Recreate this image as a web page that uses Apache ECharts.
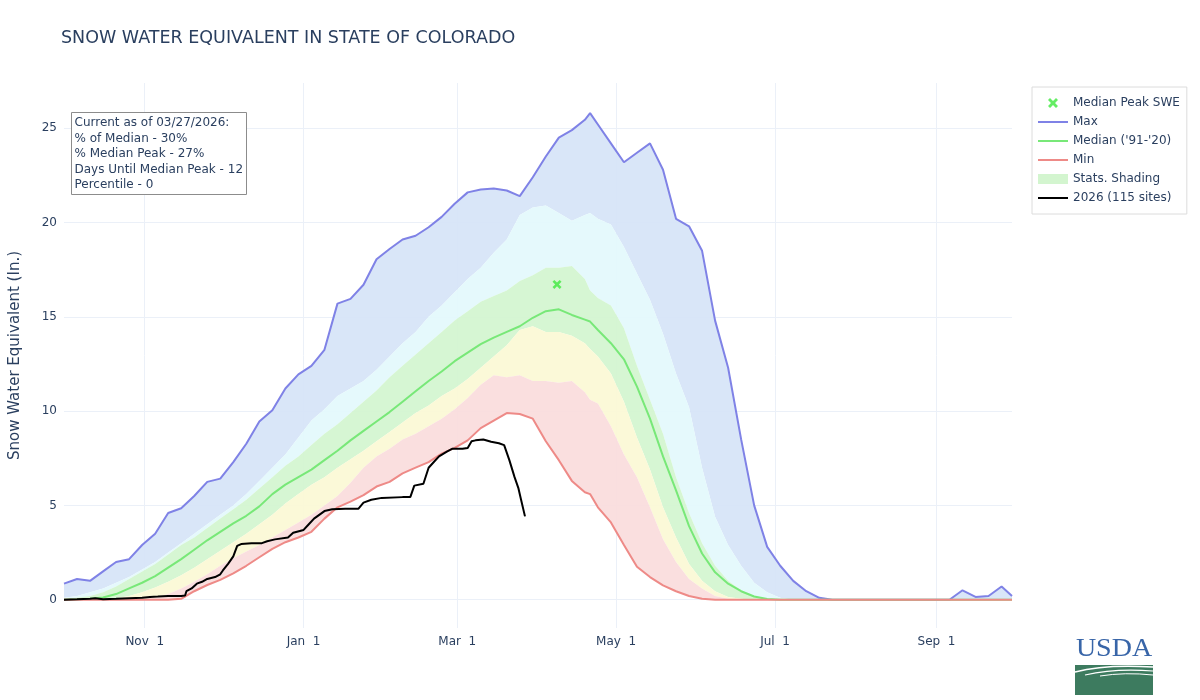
<!DOCTYPE html>
<html>
<head>
<meta charset="utf-8">
<title>Snow Water Equivalent in State of Colorado</title>
<script src="https://cdn.jsdelivr.net/npm/echarts@6.0.0/dist/echarts.min.js"></script>
<style>
  html, body { margin: 0; padding: 0; background: #fff; }
  #chart { width: 1200px; height: 700px; }
</style>
</head>
<body>
<div id="chart"></div>
<script>
// day of water year, 0 = Oct 1
var days = [
  0, 5, 10, 15, 20, 25, 30, 35, 40, 45,
  50, 55, 60, 65, 70, 75, 80, 85, 90, 95,
  100, 105, 110, 115, 120, 125, 130, 135, 140, 145,
  150, 155, 160, 165, 170, 175, 180, 185, 190, 195,
  200, 202, 205, 210, 215, 220, 225, 230, 235, 240, 245,
  250, 255, 260, 265, 270, 275, 280, 285, 290, 295,
  300, 305, 310, 315, 320, 325, 330, 335, 340, 345,
  350, 355, 360, 364
];
var maxSwe = [
  0.85, 1.1, 1.0, 1.5, 2.0, 2.15, 2.9, 3.5, 4.6, 4.85,
  5.5, 6.25, 6.42, 7.3, 8.27, 9.45, 10.05, 11.2, 11.95, 12.4,
  13.25, 15.7, 15.95, 16.7, 18.05, 18.6, 19.1, 19.3, 19.75, 20.3,
  21.0, 21.6, 21.75, 21.8, 21.7, 21.4, 22.4, 23.5, 24.5, 24.9,
  25.45, 25.8, 25.2, 24.2, 23.2, 23.7, 24.2, 22.8, 20.2, 19.8, 18.5,
  14.8, 12.3, 8.5, 5.0, 2.8, 1.8, 1.0, 0.45, 0.1, 0,
  0, 0, 0, 0, 0, 0, 0, 0, 0, 0.5,
  0.15, 0.2, 0.7, 0.2
];
var p90Swe = [
  0.1, 0.2, 0.4, 0.6, 0.9, 1.2, 1.6, 2.0, 2.5, 3.0,
  3.5, 4.0, 4.5, 5.0, 5.6, 6.3, 7.0, 7.7, 8.6, 9.5,
  10.1, 10.8, 11.2, 11.6, 12.2, 12.9, 13.6, 14.2, 15.0, 15.6,
  16.3, 17.0, 17.6, 18.4, 19.1, 20.4, 20.8, 20.9, 20.5, 20.1,
  20.4, 20.5, 20.2, 19.9, 18.7, 17.3, 15.9, 14.1, 12.0, 10.2, 7.0,
  4.4, 2.9, 1.8, 0.9, 0.4, 0.1, 0, 0, 0, 0,
  0, 0, 0, 0, 0, 0, 0, 0, 0, 0,
  0, 0, 0, 0
];
var p70Swe = [
  0.05, 0.1, 0.2, 0.4, 0.7, 1.1, 1.5, 1.9, 2.4, 2.9,
  3.3, 3.8, 4.3, 4.8, 5.3, 5.9, 6.5, 7.1, 7.6, 8.2,
  8.8, 9.3, 9.9, 10.5, 11.1, 11.8, 12.4, 13.0, 13.6, 14.2,
  14.8, 15.3, 15.8, 16.1, 16.4, 16.9, 17.2, 17.6, 17.6, 17.7,
  17.0, 16.4, 16.0, 15.6, 14.4, 12.4, 10.6, 8.8, 6.5, 4.6, 3.0,
  1.8, 1.0, 0.5, 0.2, 0.05, 0, 0, 0, 0, 0,
  0, 0, 0, 0, 0, 0, 0, 0, 0, 0,
  0, 0, 0, 0
];
var medianSwe = [
  0, 0.02, 0.05, 0.12, 0.3, 0.6, 0.9, 1.25, 1.7, 2.15,
  2.65, 3.15, 3.6, 4.05, 4.45, 4.95, 5.6, 6.1, 6.5, 6.9,
  7.4, 7.9, 8.45, 8.95, 9.45, 9.95, 10.5, 11.05, 11.6, 12.1,
  12.65, 13.1, 13.55, 13.9, 14.2, 14.5, 14.95, 15.3, 15.4, 15.1,
  14.85, 14.75, 14.3, 13.6, 12.75, 11.3, 9.6, 7.6, 5.8, 3.9, 2.45,
  1.45, 0.85, 0.45, 0.17, 0.04, 0, 0, 0, 0, 0,
  0, 0, 0, 0, 0, 0, 0, 0, 0, 0,
  0, 0, 0, 0
];
var p30Swe = [
  0, 0, 0.01, 0.03, 0.08, 0.2, 0.4, 0.65, 0.95, 1.3,
  1.7, 2.15, 2.6, 3.05, 3.5, 4.0, 4.5, 5.1, 5.6, 6.1,
  6.5, 7.0, 7.45, 7.9, 8.4, 8.9, 9.4, 9.9, 10.3, 10.8,
  11.2, 11.7, 12.3, 12.9, 13.5, 14.3, 14.5, 14.2, 14.2, 14.0,
  13.6, 13.3, 12.9, 12.0, 10.5, 8.6, 6.9, 4.9, 3.3, 1.9, 1.0,
  0.45, 0.15, 0.05, 0, 0, 0, 0, 0, 0, 0,
  0, 0, 0, 0, 0, 0, 0, 0, 0, 0,
  0, 0, 0, 0
];
var p10Swe = [
  0, 0, 0, 0, 0, 0, 0.02, 0.1, 0.3, 0.6,
  0.95, 1.35, 1.8, 2.2, 2.55, 2.9, 3.3, 3.7, 4.1, 4.5,
  5.0, 5.5, 6.2, 7.0, 7.6, 8.0, 8.5, 8.8, 9.2, 9.6,
  10.1, 10.7, 11.4, 11.9, 11.8, 11.9, 11.6, 11.6, 11.5, 11.6,
  11.0, 10.6, 10.4, 9.2, 7.7, 6.5, 4.9, 3.2, 2.0, 1.1, 0.6,
  0.2, 0.05, 0, 0, 0, 0, 0, 0, 0, 0,
  0, 0, 0, 0, 0, 0, 0, 0, 0, 0,
  0, 0, 0, 0
];
var minSwe = [
  0, 0, 0, 0, 0, 0, 0, 0, 0, 0.05,
  0.45, 0.78, 1.05, 1.4, 1.8, 2.25, 2.7, 3.05, 3.3, 3.6,
  4.3, 4.9, 5.2, 5.55, 6.0, 6.25, 6.7, 7.0, 7.3, 7.75,
  8.05, 8.45, 9.1, 9.5, 9.9, 9.85, 9.6, 8.4, 7.4, 6.3,
  5.7, 5.6, 4.9, 4.1, 2.9, 1.75, 1.2, 0.76, 0.45, 0.2, 0.05,
  0, 0, 0, 0, 0, 0, 0, 0, 0, 0,
  0, 0, 0, 0, 0, 0, 0, 0, 0, 0,
  0, 0, 0, 0
];

// current year (115 sites)
var days2026 = [
  0, 5, 10, 12, 15, 20, 25, 30, 33, 36, 40, 45, 46.5,
  47, 49, 51, 53, 55, 58, 60, 61, 63, 65, 66.5, 68,
  72, 76, 78, 81, 86, 88, 92, 94, 96, 98, 100, 103,
  108, 113, 115, 118, 122, 130, 133, 134.5, 138, 140,
  142, 144, 147, 149, 153, 155, 156.5, 158, 161, 164,
  167, 169, 171, 173, 174.5, 175.5, 177
];
var swe2026 = [
  0, 0.02, 0.05, 0.08, 0.03, 0.05, 0.08, 0.1, 0.15, 0.17, 0.2, 0.2, 0.22,
  0.45, 0.6, 0.85, 0.95, 1.1, 1.2, 1.35, 1.55, 1.9, 2.3, 2.85, 2.95,
  3.0, 3.0, 3.1, 3.2, 3.3, 3.55, 3.7, 4.0, 4.3, 4.5, 4.7, 4.8,
  4.82, 4.82, 5.15, 5.3, 5.4, 5.44, 5.45, 6.05, 6.15, 7.0,
  7.3, 7.6, 7.85, 8.0, 8.0, 8.05, 8.4, 8.45, 8.5, 8.38,
  8.3, 8.2, 7.4, 6.5, 5.9, 5.3, 4.42
];

var medianPeakDay = 189.3;
var medianPeakSwe = 16.72;

var tickDays = [31, 92, 151, 212, 273, 335];
var tickLabels = ['Nov  1', 'Jan  1', 'Mar  1', 'May  1', 'Jul  1', 'Sep  1'];
var yTicks = [0, 5, 10, 15, 20, 25];

var noteLines = [
  'Current as of 03/27/2026:',
  '% of Median - 30%',
  '% Median Peak - 27%',
  'Days Until Median Peak - 12',
  'Percentile - 0'
];

var FONT = 'Verdana, "DejaVu Sans", sans-serif';
var TXT = '#2a3f5f';
var X_SYMBOL = 'path://M0,2 L2,0 L5,3 L8,0 L10,2 L7,5 L10,8 L8,10 L5,7 L2,10 L0,8 L3,5 Z';
var LINE_ICON = 'path://M0,0 L30,0 L30,2 L0,2 Z';

function pairs(vals) {
  return days.map(function (d, i) { return [d, vals[i]]; });
}
// filled band between two percentile curves, drawn through the axes
function band(name, upper, lower, color) {
  return {
    name: name,
    type: 'custom',
    silent: true,
    z: 1,
    data: [[0, 0]],
    itemStyle: { color: color },
    renderItem: function (params, api) {
      var pts = [];
      for (var i = 0; i < days.length; i++) {
        pts.push(api.coord([days[i], upper[i]]));
      }
      for (var j = days.length - 1; j >= 0; j--) {
        pts.push(api.coord([days[j], lower[j]]));
      }
      return {
        type: 'polygon',
        shape: { points: pts },
        style: { fill: color, stroke: null }
      };
    }
  };
}
function plainLine(name, data, color) {
  return {
    name: name,
    type: 'line',
    data: data,
    symbol: 'none',
    showSymbol: false,
    lineStyle: { color: color, width: 2 },
    itemStyle: { color: color },
    emphasis: { disabled: true },
    z: 3
  };
}

var chart = echarts.init(document.getElementById('chart'));

chart.setOption({
  animation: false,
  backgroundColor: '#fff',
  title: {
    text: 'SNOW WATER EQUIVALENT IN STATE OF COLORADO',
    left: 61,
    top: 29,
    padding: 0,
    textStyle: { fontFamily: FONT, fontSize: 17.5, fontWeight: 'normal', color: TXT }
  },
  grid: { left: 57, right: 188, top: 83, bottom: 72 },
  legend: {
    orient: 'vertical',
    left: 1032,
    top: 87,
    padding: [10, 7, 10, 6],
    itemWidth: 30,
    itemHeight: 10,
    itemGap: 7,
    borderColor: '#dcdcdc',
    borderWidth: 1,
    selectedMode: false,
    textStyle: { fontFamily: FONT, fontSize: 12, color: TXT },
    data: [
      { name: 'Median Peak SWE', icon: X_SYMBOL },
      { name: 'Max', icon: LINE_ICON },
      { name: "Median ('91-'20)", icon: LINE_ICON },
      { name: 'Min', icon: LINE_ICON },
      { name: 'Stats. Shading', icon: 'rect', itemStyle: { color: '#d3f5cf' } },
      { name: '2026 (115 sites)', icon: LINE_ICON }
    ]
  },
  xAxis: {
    type: 'value',
    min: 0,
    max: 364,
    axisLine: { show: false },
    axisTick: { show: false, customValues: tickDays },
    axisLabel: {
      customValues: tickDays,
      margin: 8,
      fontFamily: FONT,
      fontSize: 12,
      color: TXT,
      formatter: function (v) {
        var i = tickDays.indexOf(v);
        return i >= 0 ? tickLabels[i] : '';
      }
    },
    splitLine: { show: true, lineStyle: { color: '#ebf0f8', width: 1 } }
  },
  yAxis: {
    type: 'value',
    min: -1.5,
    max: 27.4,
    name: 'Snow Water Equivalent (In.)',
    nameLocation: 'middle',
    nameGap: 41,
    nameRotate: 90,
    nameTextStyle: { fontFamily: FONT, fontSize: 15, color: TXT },
    axisLine: { show: false },
    axisTick: { show: false, customValues: yTicks },
    axisLabel: {
      customValues: yTicks,
      margin: 7,
      fontFamily: FONT,
      fontSize: 12,
      color: TXT
    },
    splitLine: { show: true, lineStyle: { color: '#ebf0f8', width: 1 } }
  },
  series: [
    band('max band', maxSwe, p90Swe, 'rgba(214,228,247,0.92)'),
    band('p90 band', p90Swe, p70Swe, 'rgba(227,248,252,0.92)'),
    band('Stats. Shading', p70Swe, p30Swe, 'rgba(211,245,207,0.92)'),
    band('p30 band', p30Swe, p10Swe, 'rgba(251,249,213,0.92)'),
    band('p10 band', p10Swe, minSwe, 'rgba(250,220,220,0.92)'),
    plainLine('Max', pairs(maxSwe), '#7f82e6'),
    plainLine("Median ('91-'20)", pairs(medianSwe), '#78e878'),
    plainLine('Min', pairs(minSwe), '#ee8a87'),
    plainLine('2026 (115 sites)', days2026.map(function (d, i) { return [d, swe2026[i]]; }), '#000000'),
    {
      name: 'Median Peak SWE',
      type: 'scatter',
      data: [[medianPeakDay, medianPeakSwe]],
      symbol: X_SYMBOL,
      symbolSize: 9,
      itemStyle: { color: '#3fe83f' },
      emphasis: { disabled: true },
      z: 4
    }
  ],
  graphic: [
    {
      type: 'group',
      z: 100,
      children: [
        {
          type: 'rect',
          z: 100,
          shape: { x: 71.5, y: 112.5, width: 175, height: 82 },
          style: { fill: '#ffffff', stroke: '#8c8c8c', lineWidth: 1 }
        },
        {
          type: 'text',
          z: 101,
          x: 74.5,
          y: 115,
          style: {
            text: noteLines.join('\n'),
            font: '12px ' + FONT,
            fill: TXT,
            lineHeight: 15.6,
            align: 'left',
            verticalAlign: 'top'
          }
        }
      ]
    },
    // USDA logo
    {
      type: 'group',
      z: 100,
      children: [
        {
          type: 'text',
          x: 1114,
          y: 662,
          scaleX: 1.12,
          originX: 0,
          originY: 0,
          style: {
            text: 'USDA',
            font: '25px "Liberation Serif", "DejaVu Serif", serif',
            fill: '#3865a8',
            align: 'center',
            verticalAlign: 'bottom'
          }
        },
        {
          type: 'rect',
          shape: { x: 1075, y: 665, width: 78, height: 30 },
          style: { fill: '#3d7b5f' }
        },
        {
          type: 'bezierCurve',
          shape: { x1: 1075, y1: 672, x2: 1153, y2: 667, cpx1: 1105, cpy1: 664 },
          style: { stroke: '#ffffff', lineWidth: 1.5, fill: null }
        },
        {
          type: 'bezierCurve',
          shape: { x1: 1085, y1: 675, x2: 1153, y2: 671, cpx1: 1115, cpy1: 668 },
          style: { stroke: '#ffffff', lineWidth: 1.2, fill: null }
        },
        {
          type: 'bezierCurve',
          shape: { x1: 1100, y1: 676, x2: 1153, y2: 675, cpx1: 1125, cpy1: 672 },
          style: { stroke: '#ffffff', lineWidth: 1, fill: null }
        }
      ]
    }
  ]
});
</script>
</body>
</html>
